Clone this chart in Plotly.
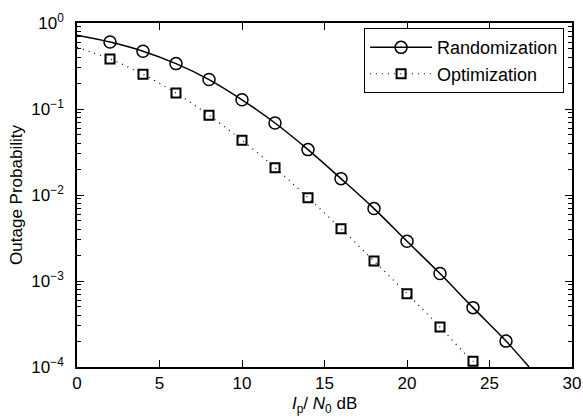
import plotly.graph_objects as go

# Data
snr_markers = [2, 4, 6, 8, 10, 12, 14, 16, 18, 20, 22, 24, 26]
rand_markers = [0.60, 0.47, 0.337, 0.22, 0.128, 0.0687, 0.0337, 0.0155, 0.00695,
                0.0029, 0.00122, 0.00049, 0.0002]
snr_opt_markers = [2, 4, 6, 8, 10, 12, 14, 16, 18, 20, 22, 24]
opt_markers = [0.381, 0.253, 0.153, 0.0845, 0.0433, 0.0208, 0.0093, 0.00406,
               0.00171, 0.000713, 0.000292, 0.000117]

# Analytic curves
snr_rand_curve = [0, 2, 4, 6, 8, 10, 12, 14, 16, 18, 20, 22, 24, 26, 27.4]
rand_curve = [0.72, 0.60, 0.47, 0.337, 0.22, 0.128, 0.0687, 0.0337, 0.0155,
              0.00695, 0.0029, 0.00122, 0.00049, 0.0002, 0.0001]
snr_opt_curve = [0, 2, 4, 6, 8, 10, 12, 14, 16, 18, 20, 22, 24, 24.6]
opt_curve = [0.52, 0.381, 0.253, 0.153, 0.0845, 0.0433, 0.0208, 0.0093, 0.00406,
             0.00171, 0.000713, 0.000292, 0.000117, 0.0001]

y_tickvals = [1e-4, 1e-3, 1e-2, 1e-1, 1]
y_ticktext = ["10<sup>−4</sup>", "10<sup>−3</sup>", "10<sup>−2</sup>",
              "10<sup>−1</sup>", "10<sup>0</sup>"]
x_tickvals = [0, 5, 10, 15, 20, 25, 30]
minor_vals = [m * 10 ** e for e in range(-4, 0) for m in range(2, 10)]

fig = go.Figure()

# Curves
fig.add_trace(go.Scatter(x=snr_rand_curve, y=rand_curve, mode="lines",
                         line=dict(color="black", width=1.5, shape="spline"),
                         showlegend=False, hoverinfo="skip"))
fig.add_trace(go.Scatter(x=snr_opt_curve, y=opt_curve, mode="lines",
                         line=dict(color="black", width=1.2, dash="1px,5px", shape="spline"),
                         showlegend=False, hoverinfo="skip"))
# Markers
fig.add_trace(go.Scatter(x=snr_markers, y=rand_markers, mode="markers",
                         marker=dict(symbol="circle-open", size=12, color="black",
                                     line=dict(width=1.5, color="black")),
                         showlegend=False))
fig.add_trace(go.Scatter(x=snr_opt_markers, y=opt_markers, mode="markers",
                         marker=dict(symbol="square-open", size=9, color="black",
                                     line=dict(width=2, color="black")),
                         showlegend=False))
# Legend entries
fig.add_trace(go.Scatter(x=[None], y=[None], mode="lines+markers", name="Randomization",
                         line=dict(color="black", width=1.5),
                         marker=dict(symbol="circle-open", size=12, color="black",
                                     line=dict(width=1.5, color="black"))))
fig.add_trace(go.Scatter(x=[None], y=[None], mode="lines+markers", name="Optimization",
                         line=dict(color="black", width=1.2, dash="1px,5px"),
                         marker=dict(symbol="square-open", size=9, color="black",
                                     line=dict(width=2, color="black"))))

font_family = "Liberation Sans, Arial, Helvetica, sans-serif"
fs = 17

fig.update_layout(
    template="none",
    width=583, height=420,
    margin=dict(l=77, r=11, t=23, b=53),
    paper_bgcolor="white", plot_bgcolor="white",
    font=dict(family=font_family, size=fs, color="black"),
    showlegend=True,
    legend=dict(x=0.984, y=0.985, xanchor="right", yanchor="top",
                bordercolor="black", borderwidth=1, bgcolor="white",
                font=dict(size=18), itemwidth=62, tracegroupgap=0,
                traceorder="normal"),
    xaxis=dict(range=[0, 30], tickvals=x_tickvals, ticks="inside", ticklen=7,
               tickwidth=1.3, tickcolor="black",
               showline=True, linecolor="black", linewidth=1.5, mirror="ticks",
               showgrid=False, zeroline=False,
               tickfont=dict(size=fs)),
    yaxis=dict(type="log", range=[-4, 0], tickvals=y_tickvals, ticktext=y_ticktext,
               ticks="inside", ticklen=7, tickwidth=1.3, tickcolor="black",
               ticklabelstandoff=8,
               showline=True, linecolor="black", linewidth=1.5, mirror="ticks",
               showgrid=False, zeroline=False,
               tickfont=dict(size=fs),
               minor=dict(ticks="inside", ticklen=4, tickwidth=1.2, tickcolor="black",
                          tickvals=minor_vals, showgrid=False),
               title=dict(text="Outage Probability", font=dict(size=fs), standoff=4)),
    annotations=[dict(text="<i>I</i><sub>p</sub>/ <i>N</i><sub>0</sub> dB",
                      xref="paper", yref="paper", x=0.5, y=-0.073,
                      xanchor="center", yanchor="top", showarrow=False,
                      font=dict(size=fs))],
)

fig.write_html("out.html", config={"displayModeBar": False},
               post_script="document.body.style.margin='0';document.body.style.padding='0';")
